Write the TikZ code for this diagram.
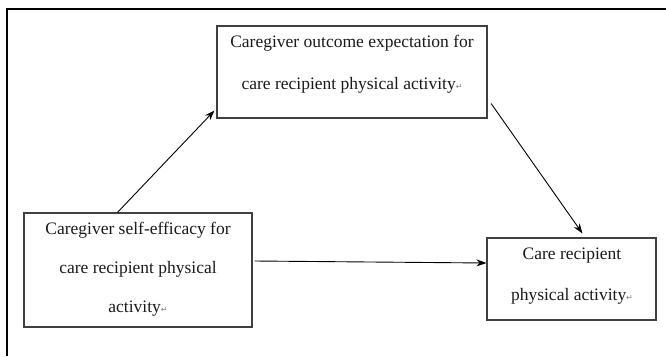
\documentclass[tikz,border=0pt]{standalone}
\usepackage{fontspec}
\setmainfont{Liberation Serif}
\newfontfamily\symfont{DejaVu Sans}
\usetikzlibrary{arrows.meta}
\definecolor{boxline}{HTML}{404040}
\definecolor{txt}{HTML}{1A1A1A}
\newcommand\retmark{{\symfont\fontsize{8}{8}\selectfont\textcolor{gray}{↵}}}
\begin{document}
\begin{tikzpicture}[x=1pt,y=-1pt,
  box/.style={draw=boxline,line width=1.1pt,inner sep=0pt,fill=white},
  label/.style={inner sep=0pt,align=center,text=txt},
  conn/.style={-{Stealth[length=10pt,width=7pt]},line width=0.9pt,black}]
\useasboundingbox[fill=white] (0,0) rectangle (666,356);
% outer frame (left and top only)
\draw[line width=2pt,black] (7,356) -- (7,9) -- (666,9);
% boxes
\node[box,minimum width=270pt,minimum height=92pt] (b1) at (352,72) {};
\node[box,minimum width=228pt,minimum height=114pt] (b2) at (138,270) {};
\node[box,minimum width=169pt,minimum height=82pt] (b3) at (571.5,279) {};
% texts
\node[label,font=\fontsize{17.5}{42}\selectfont] (t1) at (352,64)
  {Caregiver outcome expectation for\\care recipient physical activity\retmark};
\node[label,font=\fontsize{17.5}{39}\selectfont] (t2) at (138,269)
  {Caregiver self-efficacy for\\care recipient physical\\activity\retmark};
\node[label,font=\fontsize{17.5}{41.5}\selectfont] (t3) at (572,276)
  {Care recipient\\physical activity\retmark};
% connectors
\draw[conn] ([xshift=94pt]b2.north west) -- ([xshift=-2pt,yshift=8pt]b1.south west);
\draw[conn] ([xshift=3.6pt,yshift=15pt]b1.south east) -- ([xshift=96pt,yshift=4pt]b3.north west);
\draw[conn] ([xshift=2pt,yshift=9pt]b2.east) -- ([yshift=16pt]b3.west);
\end{tikzpicture}
\end{document}
